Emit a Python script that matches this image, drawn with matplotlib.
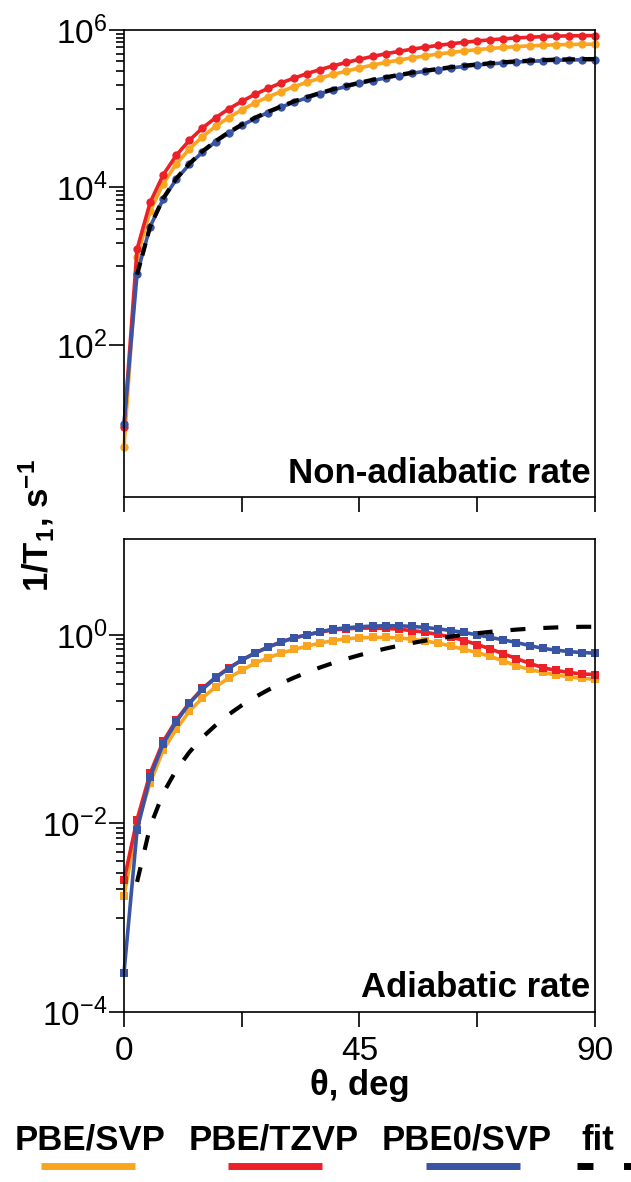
import numpy as np
import matplotlib
matplotlib.use('Agg')
import matplotlib.pyplot as plt
from matplotlib.lines import Line2D
from matplotlib.ticker import FixedLocator, FixedFormatter, NullFormatter

plt.rcParams['font.family'] = ['Liberation Sans', 'DejaVu Sans']
plt.rcParams['mathtext.fontset'] = 'custom'
plt.rcParams['mathtext.rm'] = 'Liberation Sans'
plt.rcParams['mathtext.it'] = 'Liberation Sans:italic'
plt.rcParams['mathtext.bf'] = 'Liberation Sans:bold'

# angle grid, deg
theta = [0, 2.5, 5, 7.5, 10, 12.5, 15, 17.5, 20, 22.5, 25, 27.5, 30, 32.5, 35,
         37.5, 40, 42.5, 45, 47.5, 50, 52.5, 55, 57.5, 60, 62.5, 65, 67.5, 70,
         72.5, 75, 77.5, 80, 82.5, 85, 87.5, 90]
theta_fit = theta[1:]

# non-adiabatic rate, s^-1
na_pbe_svp = [5, 1300, 5000, 11200, 19900, 30900, 44200, 59700, 77200, 96600,
              118000, 141000, 165000, 191000, 217000, 245000, 273000, 301000,
              330000, 359000, 387000, 415000, 443000, 469000, 495000, 519000,
              542000, 563000, 583000, 600000, 616000, 629000, 640000, 649000,
              655000, 659000, 660000]
na_pbe_tzvp = [9, 1650, 6460, 14500, 25700, 39800, 57000, 76800, 99500, 124000,
               152000, 181000, 213000, 245000, 280000, 315000, 351000, 388000,
               425000, 462000, 499000, 535000, 570000, 605000, 638000, 669000,
               698000, 726000, 751000, 773000, 793000, 810000, 824000, 836000,
               844000, 848000, 850000]
na_pbe0_svp = [10, 800, 3190, 7140, 12700, 19700, 28100, 38000, 49100, 61500,
               75000, 89500, 105000, 121000, 138000, 156000, 174000, 192000,
               210000, 228000, 246000, 264000, 282000, 299000, 315000, 330000,
               345000, 359000, 371000, 382000, 392000, 400000, 407000, 413000,
               417000, 419000, 420000]
na_fit = [780, 3200, 7300, 13000, 20100, 28800, 38800, 50200, 62800, 76600,
          91400, 107000, 124000, 141000, 159000, 177000, 196000, 214000, 233000,
          251000, 269000, 287000, 304000, 321000, 337000, 352000, 366000, 378000,
          390000, 400000, 408000, 415000, 421000, 424000, 427000, 428000]

# adiabatic rate, s^-1
ad_pbe_svp = [0.0017, 0.0095, 0.027, 0.060, 0.10, 0.155, 0.215, 0.28, 0.35, 0.42,
              0.50, 0.57, 0.64, 0.70, 0.76, 0.82, 0.87, 0.91, 0.93, 0.94, 0.94,
              0.93, 0.90, 0.86, 0.82, 0.76, 0.70, 0.65, 0.59, 0.53, 0.47, 0.43,
              0.40, 0.375, 0.36, 0.345, 0.34]
ad_pbe_tzvp = [0.0025, 0.011, 0.034, 0.074, 0.125, 0.19, 0.27, 0.355, 0.445, 0.54,
               0.64, 0.74, 0.84, 0.93, 1.0, 1.07, 1.13, 1.16, 1.18, 1.18, 1.17,
               1.15, 1.11, 1.07, 1.01, 0.95, 0.87, 0.79, 0.71, 0.63, 0.56, 0.50,
               0.45, 0.42, 0.40, 0.385, 0.38]
ad_pbe0_svp = [0.00026, 0.0085, 0.031, 0.070, 0.12, 0.188, 0.265, 0.35, 0.44, 0.54,
               0.64, 0.74, 0.84, 0.93, 1.0, 1.08, 1.15, 1.19, 1.22, 1.24, 1.25,
               1.25, 1.23, 1.20, 1.16, 1.11, 1.06, 1.00, 0.94, 0.885, 0.83, 0.77,
               0.72, 0.69, 0.665, 0.65, 0.64]
ad_fit = [0.0024, 0.0093, 0.021, 0.037, 0.057, 0.082, 0.11, 0.143, 0.179, 0.218,
          0.26, 0.305, 0.352, 0.401, 0.452, 0.504, 0.557, 0.61, 0.663, 0.716,
          0.768, 0.819, 0.868, 0.915, 0.96, 1.002, 1.041, 1.077, 1.11, 1.138,
          1.163, 1.183, 1.199, 1.211, 1.218, 1.22]

labels = ['PBE/SVP', 'PBE/TZVP', 'PBE0/SVP', 'fit']
colors = ['#F9A51F', '#EC2027', '#3A54A4', 'black']

fig = plt.figure(figsize=(6.31, 11.82), dpi=100)
ax1 = fig.add_axes([0.1965, 0.5795, 0.7464, 0.3951])
ax2 = fig.add_axes([0.1965, 0.1438, 0.7464, 0.4002])


def draw(ax, series, fit, marker, dashes):
    for ys, c in zip(series, colors[:3]):
        ax.plot(theta, ys, color=c, lw=2.6, marker=marker, ms=6, mew=0,
                clip_on=False)
    ax.plot(theta_fit, fit, color='black', lw=3, dashes=dashes)
    ax.set_yscale('log')
    ax.set_xlim(0, 90)
    ax.set_xticks([0, 22.5, 45, 67.5, 90])
    ax.tick_params(axis='both', which='major', direction='out', length=11,
                   width=1.2, labelsize=24)
    ax.tick_params(axis='x', which='major', pad=6)
    ax.tick_params(axis='y', which='major', pad=1)
    ax.tick_params(axis='y', which='minor', direction='out', length=6, width=1.2)
    for s in ax.spines.values():
        s.set_linewidth(1.2)


draw(ax1, [na_pbe_svp, na_pbe_tzvp, na_pbe0_svp], na_fit, 'o', (3, 1.8))
ax1.set_ylim(1.17, 1e6)
ax1.yaxis.set_major_locator(FixedLocator([1e2, 1e4, 1e6]))
ax1.yaxis.set_major_formatter(FixedFormatter([r'$10^{2}$', r'$10^{4}$', r'$10^{6}$']))
ax1.yaxis.set_minor_locator(FixedLocator([k * 1e3 for k in range(1, 10)] +
                                         [k * 1e5 for k in range(1, 10)]))
ax1.yaxis.set_minor_formatter(NullFormatter())
ax1.set_xticklabels([])
ax1.text(0.99, 0.03, 'Non-adiabatic rate', transform=ax1.transAxes,
         ha='right', va='baseline', fontsize=25, fontweight='bold')

draw(ax2, [ad_pbe_svp, ad_pbe_tzvp, ad_pbe0_svp], ad_fit, 's', (3.6, 4.3))
ax2.set_ylim(1e-4, 10.4)
ax2.yaxis.set_major_locator(FixedLocator([1e-4, 1e-2, 1]))
ax2.yaxis.set_major_formatter(FixedFormatter([r'$10^{-4}$', r'$10^{-2}$', r'$10^{0}$']))
ax2.yaxis.set_minor_locator(FixedLocator([k * 1e-3 for k in range(1, 10)] +
                                         [k * 1e-1 for k in range(1, 10)]))
ax2.yaxis.set_minor_formatter(NullFormatter())
ax2.set_xticklabels(['0', '', '45', '', '90'])
ax2.text(0.99, 0.032, 'Adiabatic rate', transform=ax2.transAxes,
         ha='right', va='baseline', fontsize=25, fontweight='bold')
ax2.set_xlabel('θ, deg', fontsize=25, fontweight='bold', labelpad=2)

fig.text(0.057, 0.555, r'1/T$_\mathbf{1}$, s$^\mathbf{-1}$', rotation=90,
         ha='center', va='center', fontsize=25, fontweight='bold')

# legend: labels above their line swatches
text_x = [0.143, 0.433, 0.739, 0.948]
line_x = [(0.065, 0.214), (0.361, 0.510), (0.675, 0.824), (0.914, 1.0)]
for lab, c, tx, (x0, x1) in zip(labels, colors, text_x, line_x):
    fig.text(tx, 0.0355, lab, ha='center', va='center', fontsize=25,
             fontweight='bold')
    ln = Line2D([x0, x1], [0.0135, 0.0135], transform=fig.transFigure,
                color=c, lw=5, solid_capstyle='butt', dash_capstyle='butt')
    if lab == 'fit':
        ln.set_dashes((2.3, 4.4))
    fig.add_artist(ln)

fig.savefig('out.png', dpi=100)
